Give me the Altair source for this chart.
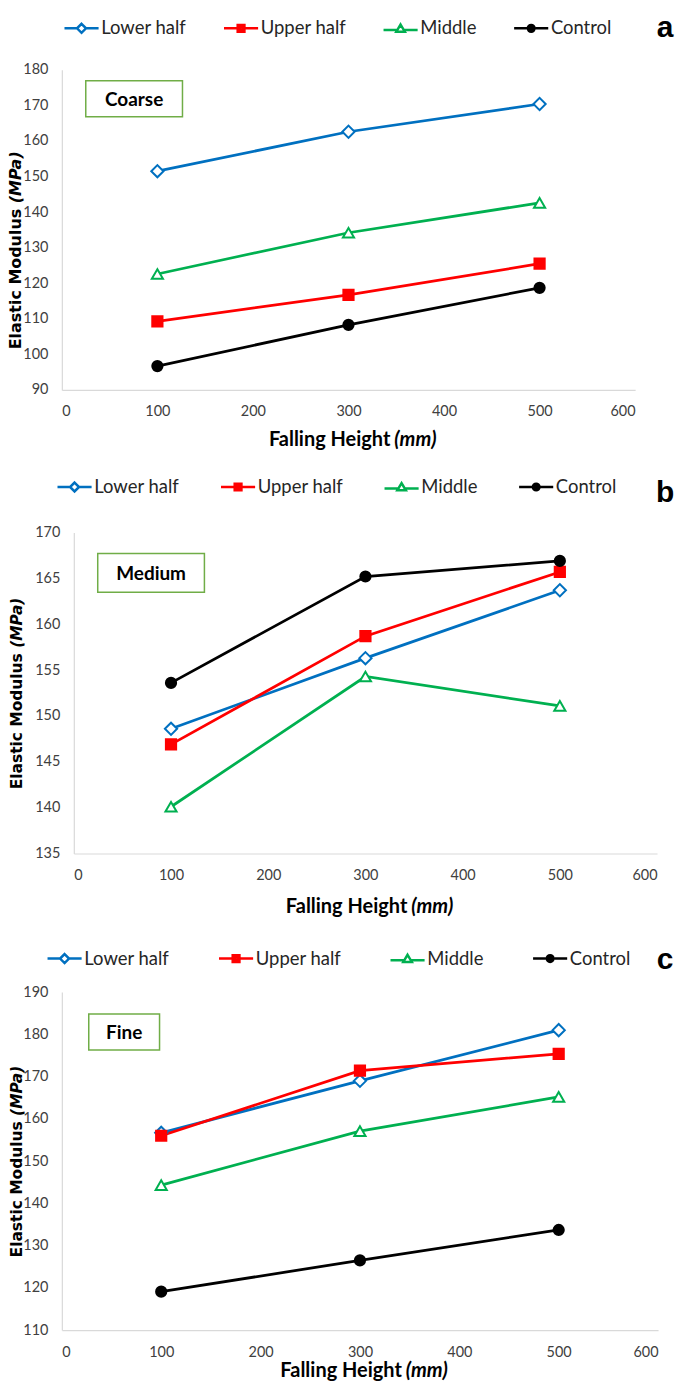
import altair as alt
import pandas as pd

heights = [100, 300, 500]
series = ["Lower half", "Upper half", "Middle", "Control"]

coarse_lower = [151.5, 162.6, 170.4]
coarse_upper = [109.3, 116.7, 125.5]
coarse_middle = [122.6, 134.2, 142.6]
coarse_control = [96.7, 108.3, 118.7]

medium_lower = [148.6, 156.3, 163.7]
medium_upper = [146.9, 158.7, 165.7]
medium_middle = [140.1, 154.3, 151.1]
medium_control = [153.6, 165.2, 166.9]

fine_lower = [156.7, 169.0, 181.0]
fine_upper = [156.0, 171.4, 175.4]
fine_middle = [144.3, 157.1, 165.2]
fine_control = [119.1, 126.5, 133.7]

x_ticks = [0, 100, 200, 300, 400, 500, 600]
coarse_ticks = [90, 100, 110, 120, 130, 140, 150, 160, 170, 180]
medium_ticks = [135, 140, 145, 150, 155, 160, 165, 170]
fine_ticks = [110, 120, 130, 140, 150, 160, 170, 180, 190]

COLORS = ["#0070C0", "#FF0000", "#00B050", "#000000"]
FILLS = ["#FFFFFF", "#FF0000", "#FFFFFF", "#000000"]
SHAPES = ["diamond", "square", "triangle-up", "circle"]
SIZES = [150, 105, 125, 105]

# legend symbols: a marker with a line through it (unit box -1..1 is the marker)
SEG = "M-3.8,0H-1M1,0H3.8"
LEG_SHAPES = [
    SEG + "M0,-1L1,0L0,1L-1,0Z",
    SEG + "M-0.75,-0.75H0.75V0.75H-0.75ZM-0.3,-0.3H0.3V0.3H-0.3Z",
    "M-3.8,0.35H-0.75M0.75,0.35H3.8M0,-0.85L0.95,0.75H-0.95Z",
    SEG + "M0.75,0A0.75,0.75,0,1,1,-0.75,0A0.75,0.75,0,1,1,0.75,0ZM0.3,0A0.3,0.3,0,1,1,-0.3,0A0.3,0.3,0,1,1,0.3,0Z",
]

FONT = "Lato"


def frame(lower, upper, middle, control):
    rows = []
    for name, vals in zip(series, [lower, upper, middle, control]):
        for h, v in zip(heights, vals):
            rows.append({"height": h, "modulus": v, "series": name})
    return pd.DataFrame(rows)


def panel(df, ydom, yticks, shift, w, h, letter, lety, boxname, box, lx, ly, cp, xty,
          yfs, ydy, ytx):
    W = w + shift
    x = alt.X("height:Q", scale=alt.Scale(domain=[0, 600], nice=False, range=[shift, W]),
              axis=alt.Axis(values=x_ticks, grid=False, ticks=False, tickSize=0,
                            domainColor="#D9D9D9", domainWidth=1.2,
                            labelFont=FONT, labelFontSize=14.5, labelColor="#404040",
                            labelPadding=15, title=None))
    y = alt.Y("modulus:Q", scale=alt.Scale(domain=ydom, nice=False, zero=False),
              axis=alt.Axis(values=yticks, grid=False, ticks=False, tickSize=0,
                            domainColor="#D9D9D9", domainWidth=1.2, offset=-shift,
                            labelFont=FONT, labelFontSize=14.5, labelColor="#404040",
                            labelPadding=14, title=None))
    base = alt.Chart(df)
    line_layers = []
    for name, col in zip(series, COLORS):
        line_layers.append(
            base.transform_filter(alt.datum.series == name).mark_line(
                strokeWidth=2.75, color=col).encode(x=x, y=y))
    point_layers = []
    for name, col, fil, shp, sz in zip(series, COLORS, FILLS, SHAPES, SIZES):
        point_layers.append(
            base.transform_filter(alt.datum.series == name).mark_point(
                shape=shp, stroke=col, fill=fil, size=sz, strokeWidth=2,
                opacity=1, fillOpacity=1).encode(x=x, y=y))
    bx0, by0, bx1, by1 = [v + d for v, d in zip(box, (shift, 0, shift, 0))]
    legend = alt.Legend(orient="none", legendX=lx + shift, legendY=ly, direction="horizontal",
                        columns=4, symbolSize=81, symbolStrokeWidth=2.5,
                        labelFont=FONT, labelFontSize=18.5, labelColor="#262626",
                        labelOffset=10.5, columnPadding=cp, title=None)
    # legend-only layer: its marks sit hidden beneath the label box
    leg = base.mark_point(strokeWidth=2.5, opacity=1, filled=False).encode(
        x=alt.value((bx0 + bx1) / 2), y=alt.value((by0 + by1) / 2),
        color=alt.Color("series:N", scale=alt.Scale(domain=series, range=COLORS), legend=legend),
        shape=alt.Shape("series:N", scale=alt.Scale(domain=series, range=LEG_SHAPES), legend=legend),
    )
    one = alt.Chart(pd.DataFrame({"name": [boxname]}))
    rect = one.mark_rect(fill="white", stroke="#70AD47", strokeWidth=1.5).encode(
        x=alt.value(bx0), x2=alt.value(bx1), y=alt.value(by0), y2=alt.value(by1))
    rtext = one.mark_text(font=FONT, fontSize=19, fontWeight="bold", color="#000000").encode(
        x=alt.value((bx0 + bx1) / 2), y=alt.value((by0 + by1) / 2 + 1), text="name:N")

    yc = h / 2 + ydy
    L1, L2 = 8.818 * yfs, 3.317 * yfs
    gap = 0.348 * yfs
    yj = yc - (L1 - L2) / 2
    yt1 = one.mark_text(font="DejaVu Sans", fontSize=yfs, fontWeight="bold", angle=270,
                        align="right", baseline="middle").encode(
        x=alt.value(ytx), y=alt.value(yj + gap / 2), text=alt.value("Elastic Modulus"))
    yt2 = one.mark_text(font="DejaVu Sans", fontSize=yfs, fontWeight="bold", fontStyle="italic",
                        angle=270, align="left", baseline="middle").encode(
        x=alt.value(ytx), y=alt.value(yj - gap / 2), text=alt.value("(MPa)"))
    xfs = 20
    X1, X2 = 127, 39
    xj = shift + w / 2 + (X1 - X2) / 2
    xt1 = one.mark_text(font=FONT, fontSize=xfs, fontWeight="bold", align="right",
                        baseline="middle").encode(
        x=alt.value(xj - 2), y=alt.value(h + xty), text=alt.value("Falling Height"))
    xt2 = one.mark_text(font=FONT, fontSize=xfs, fontWeight="bold", fontStyle="italic",
                        align="left", baseline="middle").encode(
        x=alt.value(xj + 2), y=alt.value(h + xty), text=alt.value("(mm)"))
    let = one.mark_text(font="Liberation Sans", fontSize=30, fontWeight="bold",
                        align="center", baseline="alphabetic").encode(
        x=alt.value(605), y=alt.value(lety), text=alt.value(letter))
    return alt.layer(*line_layers, *point_layers, leg, rect, rtext, yt1, yt2, xt1, xt2, let).properties(
        width=W, height=h)


pa = panel(frame(coarse_lower, coarse_upper, coarse_middle, coarse_control),
           [90, 180], coarse_ticks, 0, 575, 321, "a", -33, "Coarse", (24, 11, 121, 47),
           10.5, -51, 32, 50, 16, 20, -45.5)
pb = panel(frame(medium_lower, medium_upper, medium_middle, medium_control),
           [135, 170], medium_ticks, 12, 585, 322, "b", -31, "Medium", (24, 21, 131, 60),
           -8.5, -55, 36, 54, 15.5, 0, -45)
pc = panel(frame(fine_lower, fine_upper, fine_middle, fine_control),
           [110, 190], fine_ticks, 0, 598, 339, "c", -23, "Fine", (27, 22, 98, 58),
           -6.5, -43, 44, 41, 15.5, 0, -45)

chart = alt.vconcat(pa, pb, pc, spacing=28).resolve_scale(
    color="independent", shape="independent", x="independent", y="independent"
).resolve_legend(color="independent", shape="independent").configure_view(
    stroke=None).properties(padding={"left": 0, "top": 3, "right": 2, "bottom": 0})

chart.save("out.html", embed_options={"renderer": "svg", "actions": False})
